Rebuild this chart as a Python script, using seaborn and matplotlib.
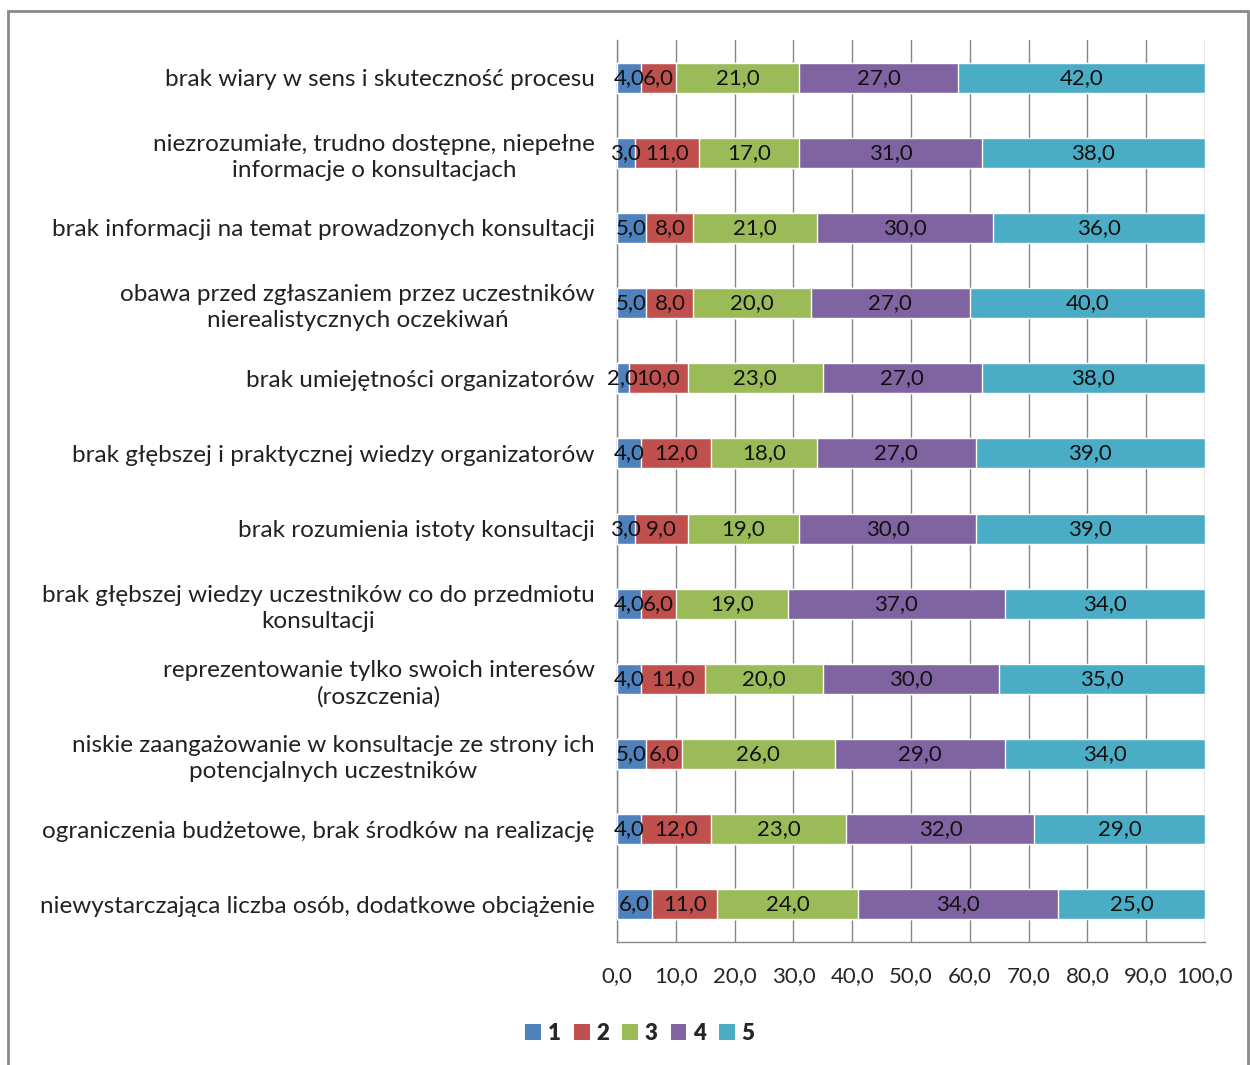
import numpy as np
import pandas as pd
import matplotlib
matplotlib.use("Agg")
import matplotlib.pyplot as plt
from matplotlib.patches import Patch, Rectangle
import seaborn as sns

categories = [
    "brak wiary w sens i skuteczność procesu",
    "niezrozumiałe, trudno dostępne, niepełne\ninformacje o konsultacjach",
    "brak informacji na temat prowadzonych konsultacji",
    "obawa przed zgłaszaniem przez uczestników\nnierealistycznych oczekiwań",
    "brak umiejętności organizatorów",
    "brak głębszej i praktycznej wiedzy organizatorów",
    "brak rozumienia istoty konsultacji",
    "brak głębszej wiedzy uczestników co do przedmiotu\nkonsultacji",
    "reprezentowanie tylko swoich interesów\n(roszczenia)",
    "niskie zaangażowanie w konsultacje ze strony ich\npotencjalnych uczestników",
    "ograniczenia budżetowe, brak środków na realizację",
    "niewystarczająca liczba osób, dodatkowe obciążenie",
]
series_names = ["1", "2", "3", "4", "5"]
s1 = [4, 3, 5, 5, 2, 4, 3, 4, 4, 5, 4, 6]
s2 = [6, 11, 8, 8, 10, 12, 9, 6, 11, 6, 12, 11]
s3 = [21, 17, 21, 20, 23, 18, 19, 19, 20, 26, 23, 24]
s4 = [27, 31, 30, 27, 27, 27, 30, 37, 30, 29, 32, 34]
s5 = [42, 38, 36, 40, 38, 39, 39, 34, 35, 34, 29, 25]
x_ticks = [0, 10, 20, 30, 40, 50, 60, 70, 80, 90, 100]
colors = ["#4F81BD", "#C0504D", "#9BBB59", "#8064A2", "#4BACC6"]

sns.set_style("white")
plt.rcParams["font.family"] = ["Lato", "DejaVu Sans"]

vals = np.array([s1, s2, s3, s4, s5], dtype=float)
cum = np.cumsum(vals, axis=0)
df = pd.DataFrame({"kat": categories})
for i, name in enumerate(series_names):
    df["cum" + name] = cum[i]

fig = plt.figure(figsize=(12.5, 10.65), dpi=100)
ax = fig.add_axes([0.4936, 0.1155, 0.4704, 0.8469])

# draw cumulative totals from the largest down so each segment shows
for i in range(len(series_names) - 1, -1, -1):
    sns.barplot(data=df, y="kat", x="cum" + series_names[i], color=colors[i],
                orient="h", width=0.4, saturation=1, ax=ax, zorder=3)

# data labels
for i in range(len(series_names)):
    start = cum[i] - vals[i]
    for j in range(len(categories)):
        ax.text(start[j] + vals[i][j] / 2, j, f"{vals[i][j]:.1f}".replace(".", ","),
                ha="center", va="center", fontsize=16, color="#111111", zorder=5)

ax.set_xlim(0, 100)
ax.set_ylim(len(categories) - 0.5, -0.5)
ax.set_xticks(x_ticks)
ax.set_xticklabels([f"{t:.1f}".replace(".", ",") for t in x_ticks], fontsize=16)
ax.set_yticks(range(len(categories)))
ax.set_yticklabels(categories, fontsize=17.5, ha="right", multialignment="center",
                   color="#222222", linespacing=1.3)
ax.set_yticks(np.arange(-0.5, len(categories), 1), minor=True)
ax.tick_params(axis="y", which="major", length=0, pad=16)
ax.tick_params(axis="y", which="minor", length=6, color="#868686", width=1)
ax.tick_params(axis="x", length=6, color="#868686", width=1, pad=11)
ax.set_xlabel("")
ax.set_ylabel("")
ax.grid(axis="x", color="#868686", linewidth=1, zorder=0)
ax.set_axisbelow(True)
for side in ["top", "right"]:
    ax.spines[side].set_visible(False)
for side in ["left", "bottom"]:
    ax.spines[side].set_color("#868686")
    ax.spines[side].set_linewidth(1)

handles = [Patch(facecolor=c, edgecolor="none", label=n) for c, n in zip(colors, series_names)]
fig.legend(handles=handles, loc="center", bbox_to_anchor=(0.512, 0.03), ncol=5,
           frameon=False, handlelength=0.7, handleheight=0.7, handletextpad=0.3,
           columnspacing=0.6, prop={"size": 16, "weight": "heavy"})

fig.patches.append(Rectangle((0.0064, -0.01), 0.992, 1.0, transform=fig.transFigure,
                             fill=False, edgecolor="#8a8a8a", linewidth=2))

fig.savefig("out.png", dpi=100)
